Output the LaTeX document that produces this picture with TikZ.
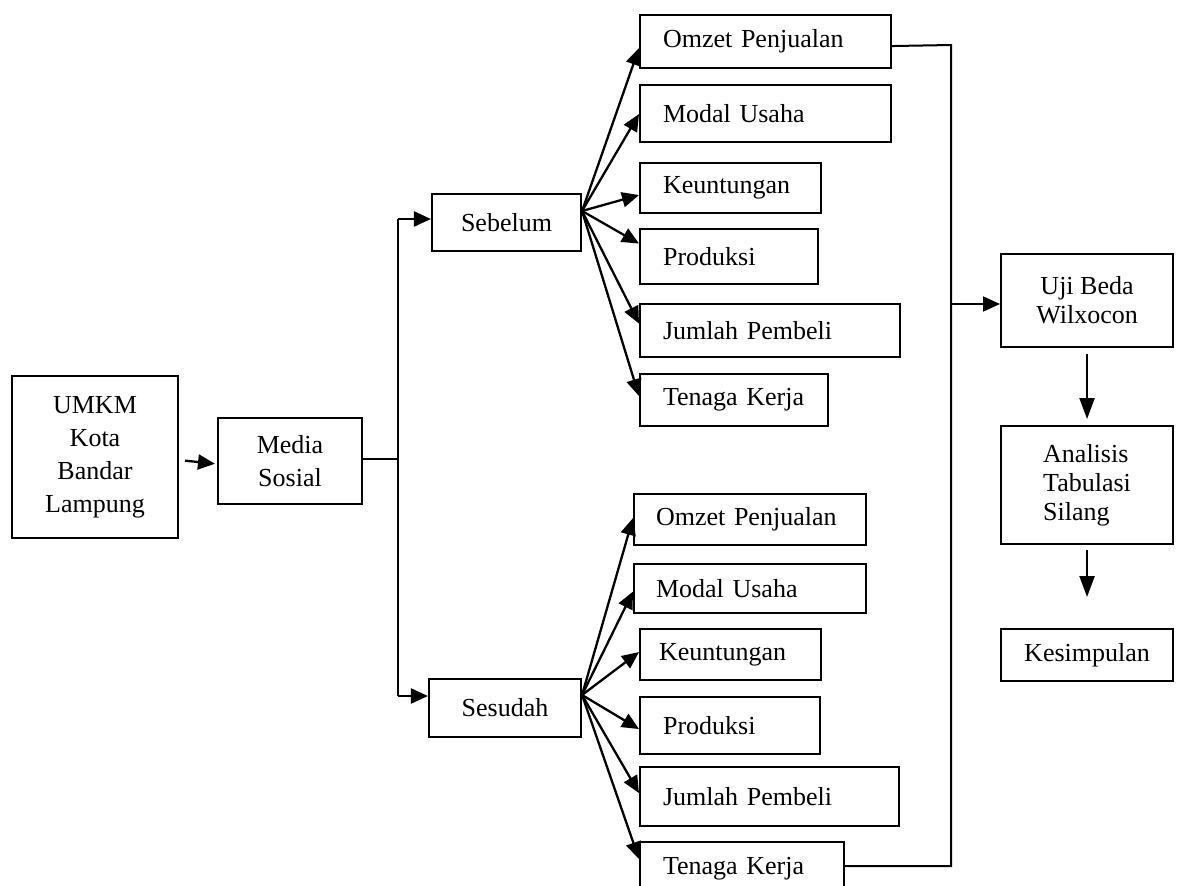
\documentclass[tikz,border=0pt]{standalone}
\usepackage{fontspec}
\setmainfont{Liberation Serif}
\usetikzlibrary{arrows.meta}
\begin{document}
\begin{tikzpicture}[x=1pt,y=-1pt,
  box/.style={draw, line width=2.1pt, inner ysep=0pt, inner xsep=0pt, font=\fontsize{26}{33}\selectfont},
  cbox/.style={box, align=center},
  lbox/.style={box, align=left, anchor=north west, inner xsep=23pt},
  rbox/.style={box, align=left, anchor=north west, font=\fontsize{26}{29}\selectfont},
  arr/.style={line width=2.3pt, -{Triangle[length=17pt,width=15pt]}},
  darr/.style={line width=2.3pt, -{Triangle[length=21pt,width=15pt]}},
  ln/.style={line width=2pt}]
\useasboundingbox (0,0) rectangle (1179,886);
\clip (0,0) rectangle (1179,886);

% left part
\node[cbox, minimum width=166pt, minimum height=162pt] (umkm) at (95,457) {UMKM\\Kota\\Bandar\\Lampung};
\node[cbox, minimum width=144pt, minimum height=86pt] (media) at (290,461) {Media\\Sosial};
\node[cbox, minimum width=149pt, minimum height=57pt] (seb) at (506.5,222.5) {Sebelum};
\node[cbox, minimum width=152pt, minimum height=58pt] (ses) at (505,708) {Sesudah};

% top group
\node[lbox, minimum width=251pt, minimum height=53pt, text width=205pt] (omz1) at (639,14) {Omzet Penjualan};
\node[lbox, minimum width=251pt, minimum height=57pt, text width=205pt] (mod1) at (639,84) {Modal Usaha};
\node[lbox, minimum width=181pt, minimum height=50pt, text width=135pt] (keu1) at (639,162) {Keuntungan};
\node[lbox, minimum width=178pt, minimum height=55pt, text width=132pt] (pro1) at (639,228) {Produksi};
\node[lbox, minimum width=260pt, minimum height=53pt, text width=214pt] (jum1) at (639,303) {Jumlah Pembeli};
\node[lbox, minimum width=188pt, minimum height=52pt, text width=142pt] (ten1) at (639,373) {Tenaga Kerja};

% bottom group
\node[lbox, inner xsep=22pt, minimum width=232pt, minimum height=51pt, text width=188pt] (omz2) at (633,493) {Omzet Penjualan};
\node[lbox, inner xsep=22pt, minimum width=232pt, minimum height=49pt, text width=188pt] (mod2) at (633,563) {Modal Usaha};
\node[lbox, inner xsep=19pt, minimum width=181pt, minimum height=51pt, text width=143pt] (keu2) at (639,628) {Keuntungan};
\node[lbox, minimum width=180pt, minimum height=57pt, text width=134pt] (pro2) at (639,696) {Produksi};
\node[lbox, minimum width=259pt, minimum height=59pt, text width=213pt] (jum2) at (639,766) {Jumlah Pembeli};
\node[lbox, minimum width=204pt, minimum height=54pt, text width=158pt] (ten2) at (639,841) {Tenaga Kerja};

% right column
\node[rbox, align=center, minimum width=172pt, minimum height=93pt] (uji) at (1000,253) {Uji Beda\\Wilxocon};
\node[rbox, minimum width=172pt, minimum height=118pt] (ana) at (1000,425) {Analisis\\Tabulasi\\Silang};
\node[rbox, align=center, minimum width=172pt, minimum height=52pt] (kes) at (1000,628) {Kesimpulan};

% connectors left
\draw[arr, shorten <=6pt, shorten >=2pt] ([yshift=-3pt]umkm.east) -- ([yshift=-3pt]media.west);
\coordinate (lT) at (398,219);
\coordinate (lB) at (398,696);
\draw[ln] ([yshift=2pt]media.east) -- ([yshift=2pt]media.east -| lT);
\draw[ln] (lT) -- (lB);
\draw[arr] (lT) -- (lT -| seb.west);
\draw[arr] (lB) -- (lB -| ses.west);

% fans
\coordinate (sO) at ([yshift=11.5pt]seb.east);
\draw[arr] (sO) -- ([yshift=-6.5pt]omz1.west);
\draw[arr] (sO) -- ([yshift=-0.5pt]mod1.west);
\draw[arr] (sO) -- ([yshift=-7pt]keu1.west);
\draw[arr] (sO) -- ([yshift=13pt]pro1.west);
\draw[arr] (sO) -- ([yshift=7pt]jum1.west);
\draw[arr] (sO) -- ([yshift=4pt]ten1.west);

\coordinate (dO) at ([yshift=13pt]ses.east);
\draw[arr] (dO) -- ([yshift=1.5pt]omz2.west);
\draw[arr] (dO) -- ([yshift=-3pt]mod2.west);
\draw[arr] (dO) -- ([yshift=2.5pt]keu2.west);
\draw[arr] (dO) -- ([yshift=-3.5pt]pro2.west);
\draw[arr] (dO) -- ([yshift=3.5pt]jum2.west);
\draw[arr] (dO) -- ([yshift=10pt]ten2.west);

% right bus
\coordinate (rT) at (951,45);
\coordinate (rB) at (951,866);
\coordinate (rJ) at (951,304);
\draw[ln] ([yshift=-4.5pt]omz1.east) -- (rT) -- (rB) -- (rB -| ten2.east);
\draw[arr] (rJ) -- (rJ -| uji.west);

\draw[darr, shorten <=6pt, shorten >=6pt] (uji.south) -- (ana.north);
\draw[darr, shorten <=5pt, shorten >=31pt] (ana.south) -- (kes.north);
\end{tikzpicture}
\end{document}
